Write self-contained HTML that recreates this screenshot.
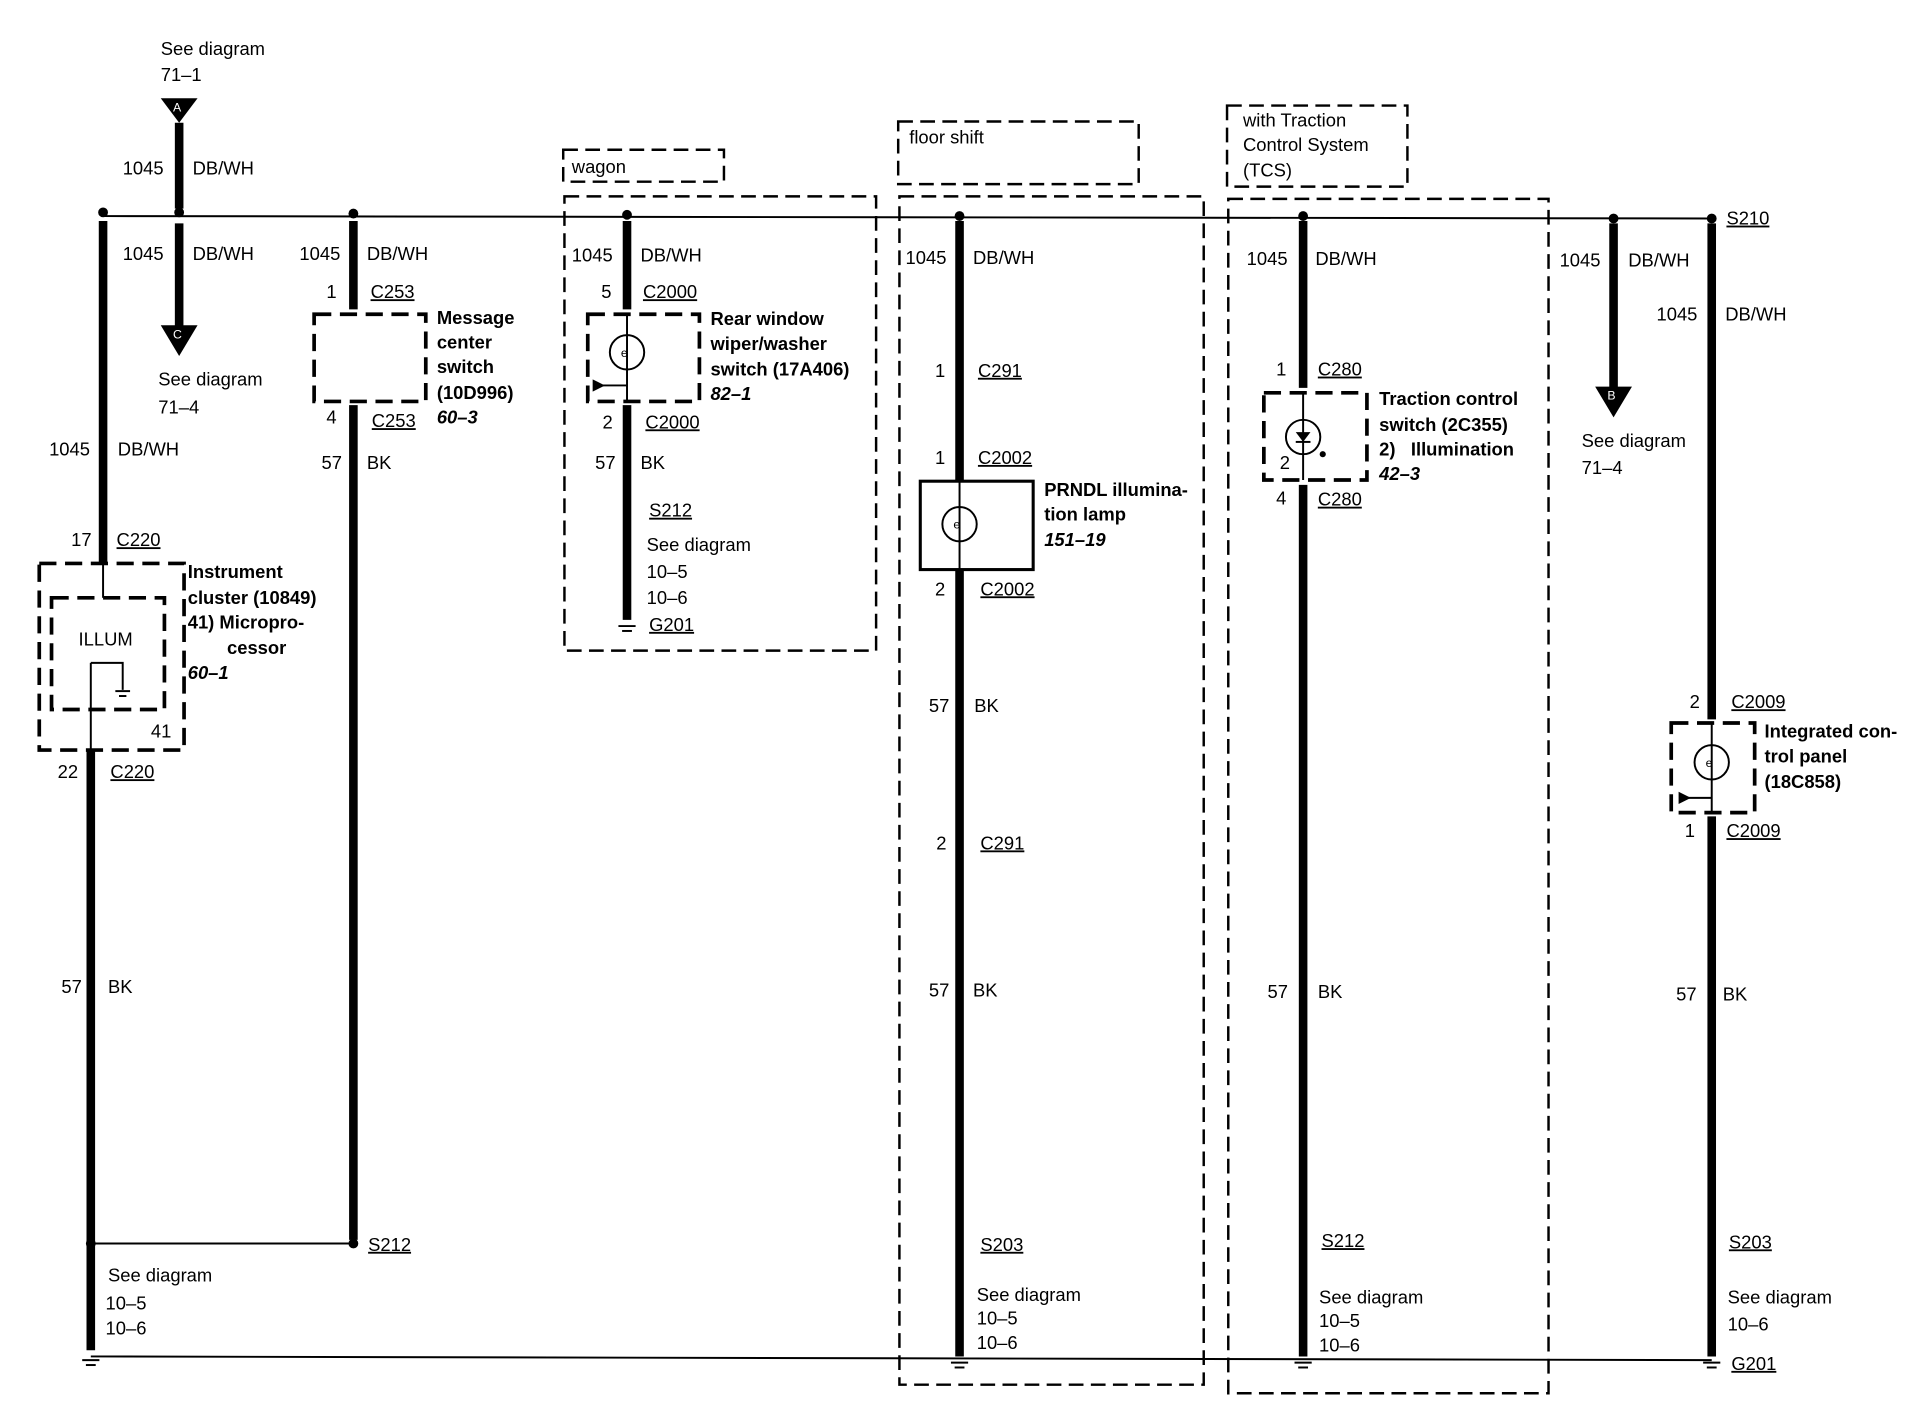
<!DOCTYPE html>
<html><head><meta charset="utf-8"><style>
html,body{margin:0;padding:0;background:#fff;}
svg{display:block;}
text{font-family:"Liberation Sans",sans-serif;font-size:15px;fill:#000;dominant-baseline:middle;}
.b{font-weight:bold;}
.i{font-weight:bold;font-style:italic;}
.u{text-decoration:underline;}
.w{stroke:#000;stroke-width:7;fill:none;}
.t{stroke:#000;stroke-width:1.6;fill:none;}
.d{stroke:#000;stroke-width:2;fill:none;stroke-dasharray:12 6;}
.d3{stroke:#000;stroke-width:3;fill:none;stroke-dasharray:14 7;}
</style></head><body>
<svg width="1924" height="1408" viewBox="0 0 1568 1147" preserveAspectRatio="none" xmlns="http://www.w3.org/2000/svg">
<line class="t" x1="84" y1="176" x2="1395" y2="178"/>
<line class="t" x1="74" y1="1105" x2="1395" y2="1108"/>
<line class="t" x1="74" y1="1013" x2="288" y2="1013"/>
<g fill="#000">
<circle cx="84" cy="173" r="4"/><circle cx="146" cy="173" r="4"/><circle cx="288" cy="174" r="4"/>
<circle cx="511" cy="175" r="4"/><circle cx="782" cy="176" r="4"/><circle cx="1062" cy="176" r="4"/>
<circle cx="1315" cy="178" r="4"/><circle cx="1395" cy="178" r="4"/>
</g>
<text x="131" y="41">See diagram</text><text x="131" y="62">71–1</text>
<polygon points="131,80 161,80 146,100" fill="#000"/><text x="141" y="88" style="font-size:10px;fill:#fff">A</text>
<line class="w" x1="146" y1="100" x2="146" y2="170"/>
<line class="w" x1="146" y1="182" x2="146" y2="266"/>
<polygon points="131,265 161,265 146,290" fill="#000"/><text x="141" y="273" style="font-size:10px;fill:#fff">C</text>
<text x="100" y="138">1045</text><text x="157" y="138">DB/WH</text>
<text x="100" y="208">1045</text><text x="157" y="208">DB/WH</text>
<text x="129" y="310">See diagram</text><text x="129" y="333">71–4</text>
<line class="w" x1="84" y1="180" x2="84" y2="459"/>
<line class="w" x1="74" y1="611" x2="74" y2="1100"/>
<text x="40" y="367">1045</text><text x="96" y="367">DB/WH</text>
<text x="58" y="441">17</text><text x="95" y="441" class="u">C220</text>
<rect class="d3" x="32" y="459" width="118" height="152"/>
<rect class="d3" x="42" y="487" width="92" height="91"/>
<text x="64" y="522">ILLUM</text>
<polyline class="t" points="74,540 100,540 100,562"/>
<line class="t" x1="94" y1="563" x2="106" y2="563"/><line class="t" x1="97" y1="567" x2="103" y2="567"/>
<line class="t" x1="84" y1="459" x2="84" y2="487"/><line class="t" x1="74" y1="540" x2="74" y2="611"/>
<text x="153" y="467" class="b">Instrument</text><text x="153" y="488" class="b">cluster (10849)</text>
<text x="153" y="508" class="b">41) Micropro-</text><text x="185" y="529" class="b">cessor</text>
<text x="153" y="549" class="i">60–1</text><text x="123" y="597">41</text>
<text x="47" y="630">22</text><text x="90" y="630" class="u">C220</text>
<text x="50" y="805">57</text><text x="88" y="805">BK</text>
<circle cx="74" cy="1013" r="4"/><circle cx="288" cy="1013" r="4"/>
<text x="88" y="1040">See diagram</text><text x="86" y="1063">10–5</text><text x="86" y="1083">10–6</text>
<line class="w" x1="288" y1="180" x2="288" y2="252"/>
<line class="w" x1="288" y1="330" x2="288" y2="1010"/>
<text x="244" y="208">1045</text><text x="299" y="208">DB/WH</text>
<text x="266" y="239">1</text><text x="302" y="239" class="u">C253</text>
<rect class="d3" x="256" y="256" width="91" height="71"/>
<text x="356" y="260" class="b">Message</text><text x="356" y="280" class="b">center</text>
<text x="356" y="300" class="b">switch</text><text x="356" y="321" class="b">(10D996)</text>
<text x="356" y="341" class="i">60–3</text>
<text x="266" y="341">4</text><text x="303" y="344" class="u">C253</text>
<text x="262" y="378">57</text><text x="299" y="378">BK</text>
<text x="300" y="1015" class="u">S212</text>
<rect class="d" x="459" y="122" width="131" height="26"/><text x="466" y="137">wagon</text>
<rect class="d" x="460" y="160" width="254" height="370"/>
<line class="w" x1="511" y1="180" x2="511" y2="252"/>
<line class="w" x1="511" y1="330" x2="511" y2="505"/>
<text x="466" y="209">1045</text><text x="522" y="209">DB/WH</text>
<text x="490" y="239">5</text><text x="524" y="239" class="u">C2000</text>
<rect class="d3" x="479" y="256" width="91" height="71"/>
<line class="t" x1="511" y1="256" x2="511" y2="327"/>
<circle class="t" cx="511" cy="287" r="14" fill="#fff"/><text x="506" y="288" style="font-size:10px">e</text>
<polyline class="t" points="485,314 511,314"/><polygon points="483,309 493,314 483,319" fill="#000"/>
<text x="579" y="261" class="b">Rear window</text><text x="579" y="281" class="b">wiper/washer</text>
<text x="579" y="302" class="b">switch (17A406)</text><text x="579" y="322" class="i">82–1</text>
<text x="491" y="345">2</text><text x="526" y="345" class="u">C2000</text>
<text x="485" y="378">57</text><text x="522" y="378">BK</text>
<text x="529" y="417" class="u">S212</text>
<text x="527" y="445">See diagram</text><text x="527" y="467">10–5</text><text x="527" y="488">10–6</text>
<line class="t" x1="504" y1="510" x2="518" y2="510"/><line class="t" x1="507" y1="514" x2="515" y2="514"/>
<text x="529" y="510" class="u">G201</text>
<rect class="d" x="732" y="99" width="196" height="51"/><text x="741" y="113">floor shift</text>
<rect class="d" x="733" y="160" width="248" height="968"/>
<line class="w" x1="782" y1="180" x2="782" y2="392"/>
<line class="w" x1="782" y1="464" x2="782" y2="1105"/>
<text x="738" y="211">1045</text><text x="793" y="211">DB/WH</text>
<text x="762" y="303">1</text><text x="797" y="303" class="u">C291</text>
<text x="762" y="374">1</text><text x="797" y="374" class="u">C2002</text>
<rect x="750" y="392" width="92" height="72" fill="none" stroke="#000" stroke-width="2.5"/>
<line class="t" x1="782" y1="392" x2="782" y2="464"/>
<circle class="t" cx="782" cy="427" r="14" fill="#fff"/><text x="777" y="428" style="font-size:10px">e</text>
<text x="851" y="400" class="b">PRNDL illumina-</text><text x="851" y="420" class="b">tion lamp</text>
<text x="851" y="441" class="i">151–19</text>
<text x="762" y="481">2</text><text x="799" y="481" class="u">C2002</text>
<text x="757" y="576">57</text><text x="794" y="576">BK</text>
<text x="763" y="688">2</text><text x="799" y="688" class="u">C291</text>
<text x="757" y="808">57</text><text x="793" y="808">BK</text>
<text x="799" y="1015" class="u">S203</text>
<text x="796" y="1056">See diagram</text><text x="796" y="1075">10–5</text><text x="796" y="1095">10–6</text>
<rect class="d" x="1000" y="86" width="147" height="66"/>
<text x="1013" y="99">with Traction</text><text x="1013" y="119">Control System</text><text x="1013" y="140">(TCS)</text>
<rect class="d" x="1001" y="162" width="261" height="973"/>
<line class="w" x1="1062" y1="180" x2="1062" y2="316"/>
<line class="w" x1="1062" y1="395" x2="1062" y2="1105"/>
<text x="1016" y="212">1045</text><text x="1072" y="212">DB/WH</text>
<text x="1040" y="302">1</text><text x="1074" y="302" class="u">C280</text>
<rect class="d3" x="1030" y="320" width="84" height="71"/>
<line class="t" x1="1062" y1="320" x2="1062" y2="391"/>
<circle class="t" cx="1062" cy="356" r="14" fill="#fff"/>
<polygon points="1056,352 1068,352 1062,360" fill="#000"/><line class="t" x1="1056" y1="360" x2="1068" y2="360"/>
<circle cx="1078" cy="370" r="2.5"/>
<text x="1043" y="378">2</text>
<text x="1124" y="326" class="b">Traction control</text><text x="1124" y="347" class="b">switch (2C355)</text>
<text x="1124" y="367" class="b">2)&#160;&#160;&#160;Illumination</text><text x="1124" y="387" class="i">42–3</text>
<text x="1040" y="407">4</text><text x="1074" y="408" class="u">C280</text>
<text x="1033" y="809">57</text><text x="1074" y="809">BK</text>
<text x="1077" y="1012" class="u">S212</text>
<text x="1075" y="1058">See diagram</text><text x="1075" y="1077">10–5</text><text x="1075" y="1097">10–6</text>
<line class="w" x1="1315" y1="182" x2="1315" y2="316"/>
<polygon points="1300,315 1330,315 1315,340" fill="#000"/><text x="1310" y="323" style="font-size:10px;fill:#fff">B</text>
<text x="1271" y="213">1045</text><text x="1327" y="213">DB/WH</text>
<text x="1289" y="360">See diagram</text><text x="1289" y="382">71–4</text>
<line class="w" x1="1395" y1="182" x2="1395" y2="586"/>
<line class="w" x1="1395" y1="665" x2="1395" y2="1105"/>
<text x="1407" y="179" class="u">S210</text>
<text x="1350" y="257">1045</text><text x="1406" y="257">DB/WH</text>
<text x="1377" y="573">2</text><text x="1411" y="573" class="u">C2009</text>
<rect class="d3" x="1362" y="589" width="68" height="73"/>
<line class="t" x1="1395" y1="589" x2="1395" y2="662"/>
<circle class="t" cx="1395" cy="621" r="14" fill="#fff"/><text x="1390" y="622" style="font-size:10px">e</text>
<line class="t" x1="1370" y1="650" x2="1395" y2="650"/><polygon points="1368,645 1378,650 1368,655" fill="#000"/>
<text x="1438" y="597" class="b">Integrated con-</text><text x="1438" y="617" class="b">trol panel</text><text x="1438" y="638" class="b">(18C858)</text>
<text x="1373" y="678">1</text><text x="1407" y="678" class="u">C2009</text>
<text x="1366" y="811">57</text><text x="1404" y="811">BK</text>
<text x="1409" y="1013" class="u">S203</text>
<text x="1408" y="1058">See diagram</text><text x="1408" y="1080">10–6</text>
<text x="1411" y="1112" class="u">G201</text>
<g stroke="#000" stroke-width="1.6">
<line x1="67" y1="1108" x2="81" y2="1108"/><line x1="70" y1="1112" x2="78" y2="1112"/>
<line x1="775" y1="1110" x2="789" y2="1110"/><line x1="778" y1="1114" x2="786" y2="1114"/>
<line x1="1055" y1="1110" x2="1069" y2="1110"/><line x1="1058" y1="1114" x2="1066" y2="1114"/>
<line x1="1388" y1="1110" x2="1402" y2="1110"/><line x1="1391" y1="1114" x2="1399" y2="1114"/>
</g>
</svg>
</body></html>
